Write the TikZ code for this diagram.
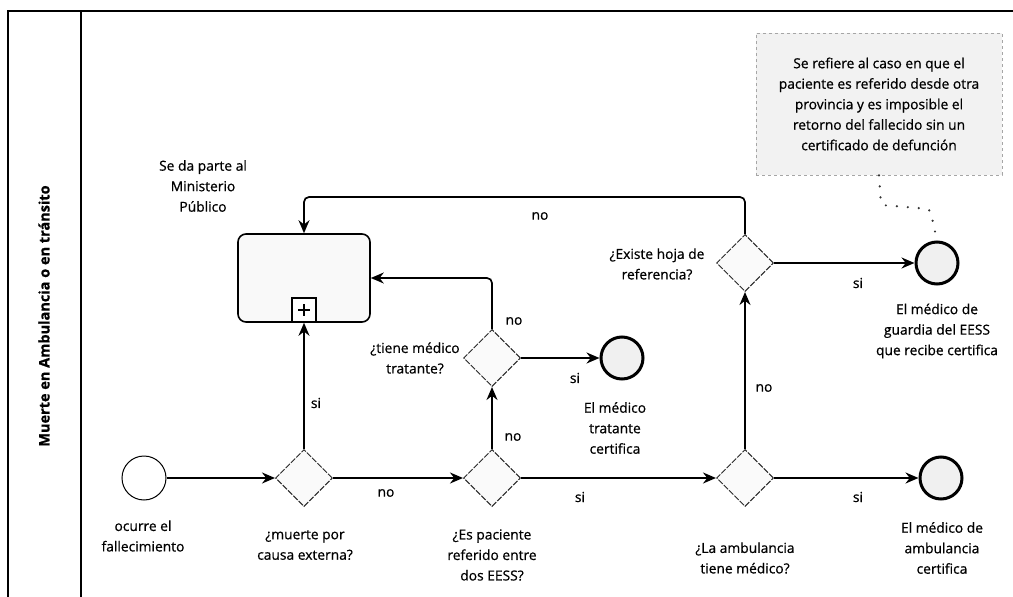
\documentclass[tikz,border=0pt]{standalone}
\usepackage{fontspec}
\setmainfont{Open Sans}[FakeBold=0.7]
\usetikzlibrary{arrows.meta,shapes.geometric,calc}
\begin{document}
\begin{tikzpicture}[x=1pt,y=-1pt,
  every node/.style={font=\fontsize{13.8}{20.5}\selectfont, inner sep=0pt},
  lbl/.style={align=center},
  gw/.style={diamond, draw=black!85, line width=1pt, dash pattern=on 6pt off 1.5pt, minimum width=57pt, minimum height=57pt, fill=gray!4},
  startev/.style={circle, draw, line width=1pt, minimum size=44pt, fill=white},
  endev/.style={circle, draw, line width=3pt, minimum size=42pt, fill=gray!12},
  subproc/.style={rectangle, draw, line width=1.6pt, rounded corners=8pt, minimum width=132pt, minimum height=88pt, fill=gray!5},
  conn/.style={line width=1.7pt, -{Stealth[length=13pt,width=11pt]}, rounded corners=5pt},
  assoc/.style={line width=2.4pt, line cap=round, dash pattern=on 0pt off 11pt, black!80},
  frame/.style={line width=1.5pt}
]
\useasboundingbox (0,0) rectangle (1013,597);
% pool frame
\draw[frame] (8,597) -- (8,11) -- (1013,11);
\draw[frame] (81,11) -- (81,597);
\node[rotate=90, font=\fontsize{14.5}{20}\selectfont\bfseries] (lane) at (44,316) {Muerte en Ambulancia o en tránsito};

% nodes
\node[startev] (start) at (144,478) {};
\node[gw] (g1) at (304,478) {};
\node[gw] (g2) at (492,478) {};
\node[gw] (g3) at (492,358) {};
\node[gw] (g5) at (745,478) {};
\node[gw] (g4) at (745,263) {};
\node[subproc] (sub) at (304,278) {};
\node[draw, line width=1.4pt, minimum size=24pt, anchor=south, fill=white] (mark) at (sub.south) {};
\draw[line width=2.4pt] ($(mark.center)+(-6,0)$) -- ($(mark.center)+(6,0)$);
\draw[line width=2.4pt] ($(mark.center)+(0,-6)$) -- ($(mark.center)+(0,6)$);
\node[endev] (e1) at (622,358) {};
\node[endev] (e2) at (937,263) {};
\node[endev] (e3) at (941,478) {};
\node[draw=gray!70, dashed, line width=0.8pt, fill=gray!10, minimum width=246pt, minimum height=142pt, align=center] (ann) at (879,104)
  {Se refiere al caso en que el\\paciente es referido desde otra\\provincia y es imposible el\\retorno del fallecido sin un\\certificado de defunción};

% labels of nodes
\node[lbl] (lstart) at (143,536) {ocurre el\\fallecimiento};
\node[lbl] (lg1) at (305,545) {¿muerte por\\causa externa?};
\node[lbl] (lg2) at (492,555) {¿Es paciente\\referido entre\\dos EESS?};
\node[lbl] (lg3) at (415,358) {¿tiene médico\\tratante?};
\node[lbl] (lg4) at (657,264) {¿Existe hoja de\\referencia?};
\node[lbl] (lg5) at (745,558) {¿La ambulancia\\tiene médico?};
\node[lbl] (lsub) at (203,186) {Se da parte al\\Ministerio\\Público};
\node[lbl] (le1) at (615,428) {El médico\\tratante\\certifica};
\node[lbl] (le2) at (937,331) {El médico de\\guardia del EESS\\que recibe certifica};
\node[lbl] (le3) at (942,548) {El médico de\\ambulancia\\certifica};

% connectors
\draw[conn] (start) -- (g1);
\draw[conn] (g1.north) -- (sub.south);
\node (si1) at (316,403) {si};
\draw[conn] (g1.east) -- (g2.west);
\node (no1) at (386,493) {no};
\draw[conn] (g2.north) -- (g3.south);
\node (no2) at (513,437) {no};
\draw[conn] (g3.north) |- (sub.east);
\node (no3) at (514,321) {no};
\draw[conn] (g3.east) -- (e1.west);
\node (si2) at (575,378) {si};
\draw[conn] (g2.east) -- (g5.west);
\node (si3) at (580,497) {si};
\draw[conn] (g5.north) -- (g4.south);
\node (no4) at (764,388) {no};
\draw[conn] (g4.north) -- ++(0,-37) -| (sub.north);
\node (no5) at (540,216) {no};
\draw[conn] (g4.east) -- (e2.west);
\node (si4) at (858,283) {si};
\draw[conn] (g5.east) -- (e3.west);
\node (si5) at (858,497) {si};

% association
\coordinate (a1) at (881,205);
\coordinate (a2) at (930,209);
\draw[assoc, rounded corners=4pt] (ann.south) -- (a1) -- (a2) -- (e2.north);
\end{tikzpicture}
\end{document}
